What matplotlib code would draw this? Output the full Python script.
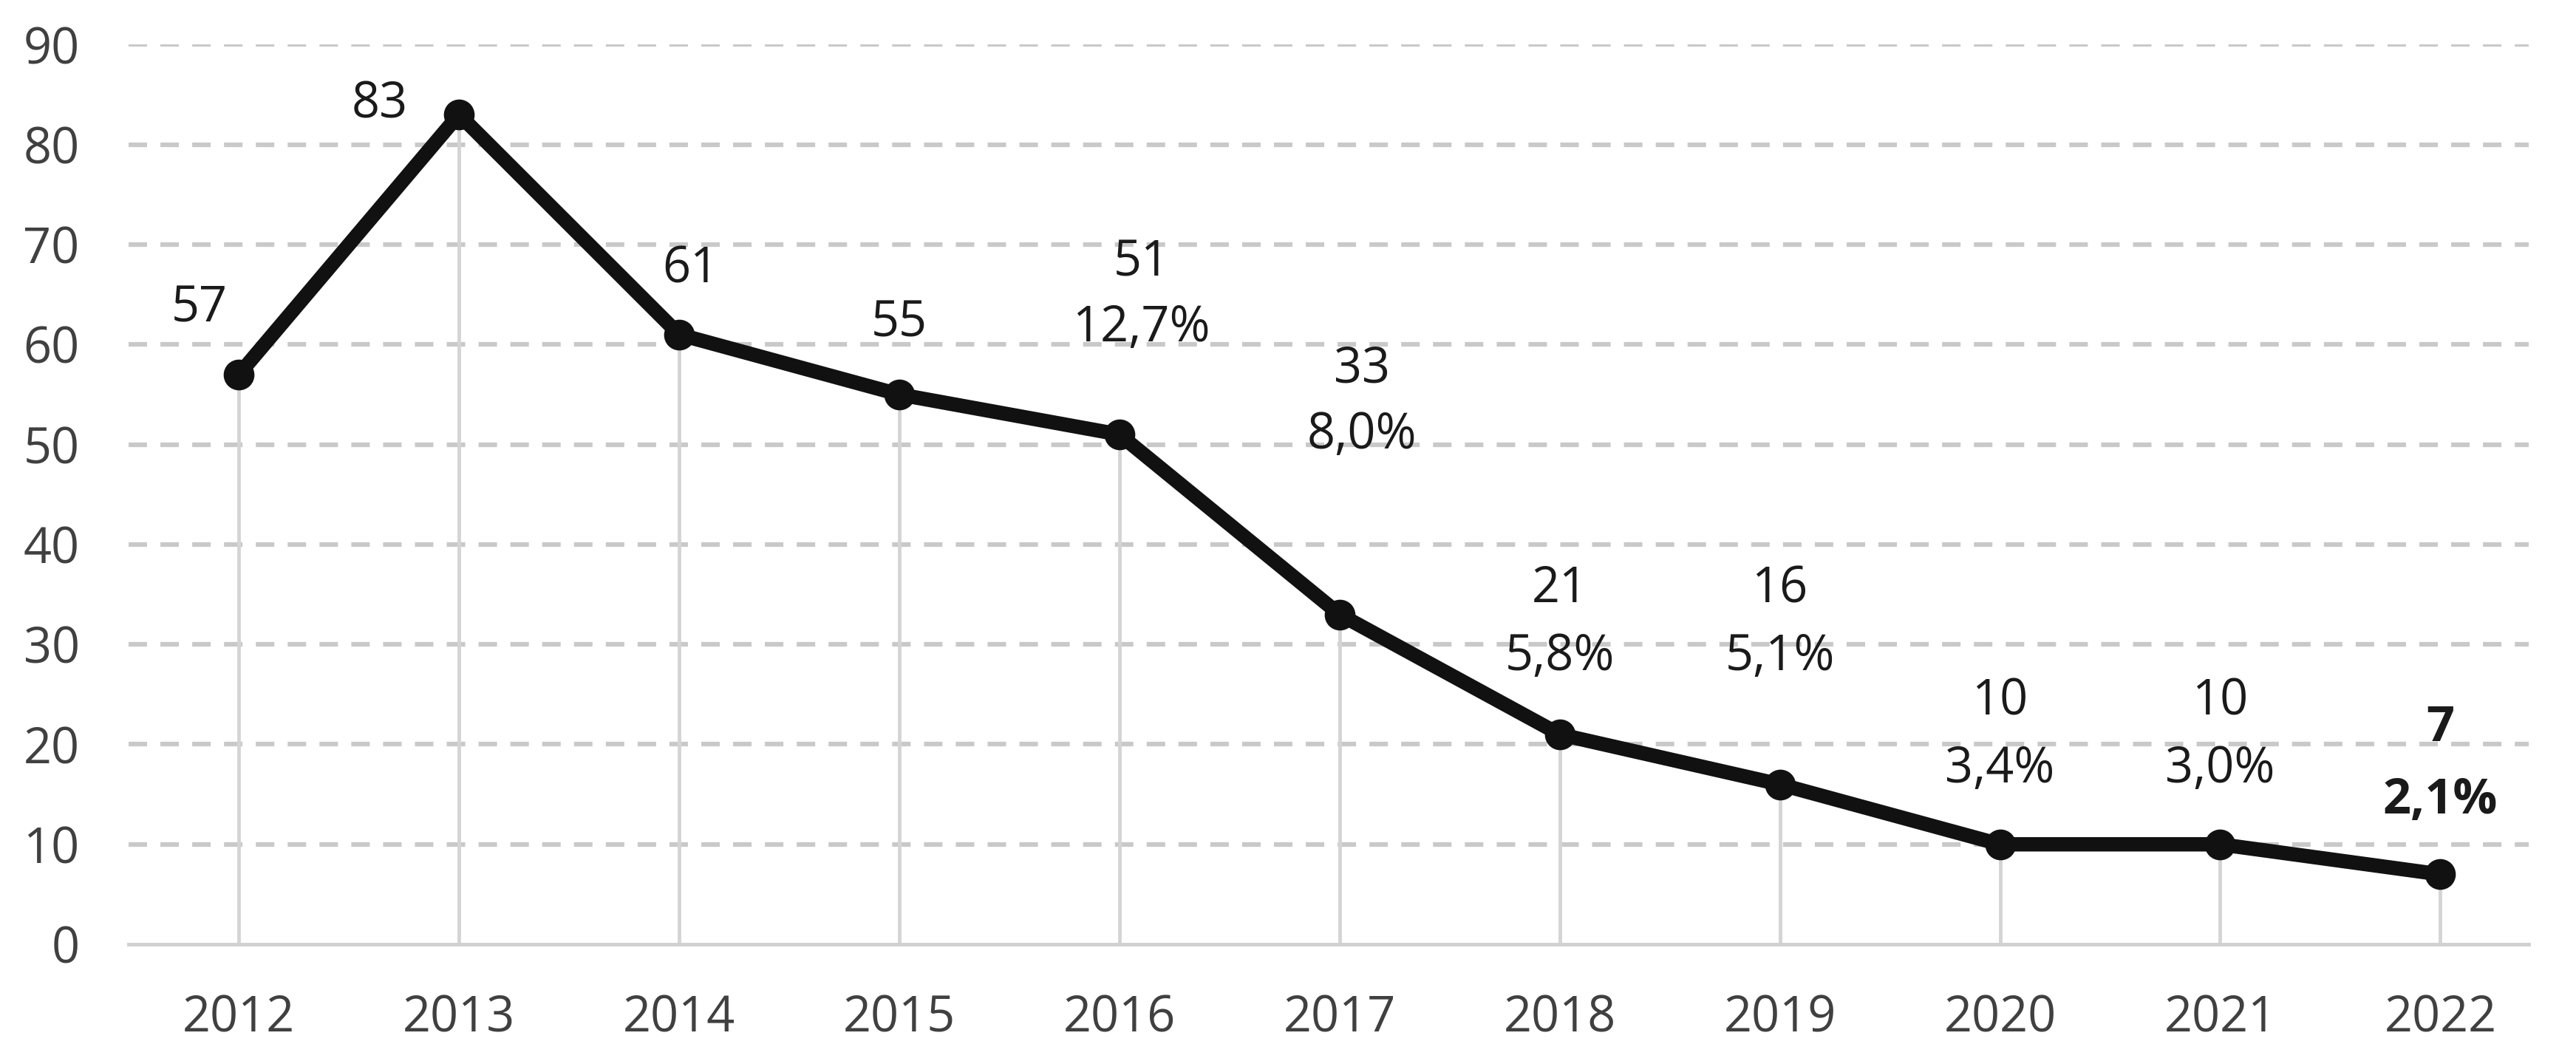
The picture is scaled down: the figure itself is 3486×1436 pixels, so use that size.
import matplotlib
matplotlib.use("Agg")
import matplotlib.pyplot as plt

years = ["2012", "2013", "2014", "2015", "2016", "2017", "2018", "2019", "2020", "2021", "2022"]
values = [57, 83, 61, 55, 51, 33, 21, 16, 10, 10, 7]
shares = ["", "", "", "", "12,7%", "8,0%", "5,8%", "5,1%", "3,4%", "3,0%", "2,1%"]
y_ticks = [0, 10, 20, 30, 40, 50, 60, 70, 80, 90]

# label placement (data coords): x offset, y of value line, y of share line
lab_dx = [-0.18, -0.36, 0.05, 0.0, 0.10, 0.10, 0.0, 0.0, 0.0, 0.0, 0.0]
lab_y1 = [63.6, 84.0, 67.5, 62.1, 68.2, 57.5, 35.5, 35.5, 24.3, 24.3, 21.6]
lab_y2 = [None, None, None, None, 61.6, 50.9, 28.7, 28.7, 17.5, 17.5, 14.4]

plt.rcParams['font.family'] = ['Open Sans', 'DejaVu Sans']
plt.rcParams['lines.scale_dashes'] = False

fig = plt.figure(figsize=(34.86, 14.36), dpi=100)
ax = fig.add_axes([0.05, 0.110, 0.9315, 0.848])

x = list(range(len(years)))
grid_c = "#c9c9c9"
for t in y_ticks[1:]:
    ax.axhline(t, color=grid_c, lw=4.5, linestyle=(0, (18, 13)), zorder=1)

ax.vlines(x, 0, values, color="#d4d4d4", lw=3.5, zorder=2)
ax.plot(x, values, color="#111111", lw=14, marker="o", markersize=29,
        solid_joinstyle="round", zorder=3)

fs = 48
for i in range(len(years)):
    bold = (i == len(years) - 1)
    ax.text(x[i] + lab_dx[i], lab_y1[i], str(values[i]), ha="center", va="center",
            fontsize=fs, color="#1a1a1a", fontweight="bold" if bold else "normal")
    if lab_y2[i] is not None:
        ax.text(x[i] + lab_dx[i], lab_y2[i], shares[i], ha="center", va="center",
                fontsize=fs, color="#1a1a1a", fontweight="bold" if bold else "normal")

ax.set_xlim(-0.5, 10.4)
ax.set_ylim(0, 90)
ax.set_xticks(x)
ax.set_xticklabels(years)
ax.set_yticks(y_ticks)
ax.tick_params(axis="both", length=0, labelsize=fs, labelcolor="#404040")
ax.tick_params(axis="x", pad=48)
ax.tick_params(axis="y", pad=48)
for s in ["top", "right", "left"]:
    ax.spines[s].set_visible(False)
ax.spines["bottom"].set_color("#d0d0d0")
ax.spines["bottom"].set_linewidth(3.5)
ax.set_facecolor("white")

fig.savefig("out.png", dpi=100, facecolor="white")
